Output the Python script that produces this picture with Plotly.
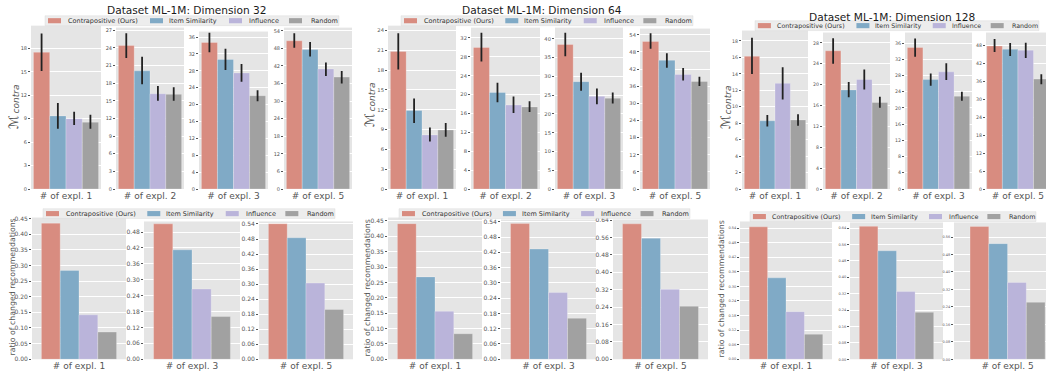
import plotly.graph_objects as go

W, H = 1046, 379

# ---------------- data ----------------
methods = ["Contrapositive (Ours)", "Item Similarity", "Influence", "Random"]
bar_colors = ["#D88C80", "#80AAC6", "#BAB4DA", "#A1A1A1"]
dimensions = ["32", "64", "128"]
top_cats = ["# of expl. 1", "# of expl. 2", "# of expl. 3", "# of expl. 5"]
bottom_cats = ["# of expl. 1", "# of expl. 3", "# of expl. 5"]
top_ytitle_main = "ℳ"
top_ytitle_sub = "contra"
bottom_ytitle = "ratio of changed recommendations"

# M_contra (rows: top_cats, cols: methods)
mc32_mean = [[17.5, 9.35, 9.0, 8.55], [24.4, 20.1, 16.2, 16.1], [34.7, 30.7, 27.5, 22.1], [50.6, 47.6, 41.0, 38.2]]
mc32_lo = [[15.1, 7.7, 8.2, 7.7], [22.3, 17.8, 15.0, 15.0], [32.4, 28.2, 25.4, 20.8], [48.2, 45.2, 38.6, 36.0]]
mc32_hi = [[19.9, 11.0, 9.9, 9.5], [26.5, 22.5, 17.5, 17.3], [37.0, 33.2, 29.6, 23.4], [53.2, 50.2, 43.2, 40.3]]

mc64_mean = [[20.85, 11.9, 8.2, 8.95], [30.0, 20.45, 17.8, 17.4], [38.5, 28.6, 24.7, 24.2], [51.7, 45.1, 40.1, 37.7]]
mc64_lo = [[18.1, 10.0, 7.2, 7.9], [27.0, 18.4, 16.1, 16.3], [35.4, 26.2, 22.6, 22.8], [49.1, 42.5, 38.0, 36.1]]
mc64_hi = [[23.6, 13.7, 9.3, 10.0], [33.1, 22.5, 19.6, 18.6], [41.6, 31.0, 26.8, 25.7], [54.6, 47.6, 42.4, 39.3]]

mc128_mean = [[16.15, 8.3, 12.85, 8.4], [26.5, 19.0, 21.0, 16.6], [34.9, 27.0, 28.9, 22.9], [47.9, 46.8, 46.5, 36.8]]
mc128_lo = [[14.0, 7.6, 10.9, 7.7], [24.0, 17.6, 19.1, 15.6], [32.6, 25.5, 26.9, 21.8], [45.9, 44.5, 43.9, 35.1]]
mc128_hi = [[18.4, 9.0, 14.8, 9.1], [28.9, 20.5, 22.9, 17.7], [37.1, 28.5, 31.0, 24.0], [50.2, 48.9, 49.0, 38.4]]

# ratio of changed recommendations (rows: bottom_cats, cols: methods)
ratio32 = [[0.435, 0.284, 0.142, 0.087], [0.511, 0.413, 0.265, 0.161], [0.541, 0.485, 0.304, 0.199]]
ratio64 = [[0.441, 0.268, 0.156, 0.083], [0.533, 0.433, 0.262, 0.161], [0.623, 0.557, 0.322, 0.244]]
ratio128 = [[0.545, 0.335, 0.196, 0.103], [0.648, 0.529, 0.330, 0.229], [0.609, 0.530, 0.352, 0.261]]

mc_mean = [mc32_mean, mc64_mean, mc128_mean]
mc_lo = [mc32_lo, mc64_lo, mc128_lo]
mc_hi = [mc32_hi, mc64_hi, mc128_hi]
ratios = [ratio32, ratio64, ratio128]

# ---------------- layout (pixels) ----------------
top_dom = [
    [(31, 101, 23), (116, 184, 25), (199, 268, 29), (284, 352, 25)],
    [(388, 456, 23), (471, 540, 25), (555, 623, 25), (640, 710, 26)],
    [(742, 808, 28), (823, 890, 30), (905, 972, 30), (986, 1046, 30)],
]
TOP_BASE = 189
top_ymax = [[20.9, 27.45, 37.3, 55.1], [24.75, 34.2, 43.0, 56.2], [19.27, 30.0, 38.6, 52.4]]
top_dtick = [[3, 3, 4, 6], [3, 4, 5, 6], [2, 4, 4, 6]]
top_tick_size = [5, 5.2, 4.7]

bot_dom = [
    [(32, 126, 218), (144, 240, 222), (259, 353, 222)],
    [(388, 482, 218), (501, 596, 220), (613, 708, 220)],
    [(740, 832, 222), (850, 943, 223), (954, 1046, 223)],
]
BOT_BASE = 362
bot_ymax = [[0.453, 0.52, 0.55], [0.461, 0.549, 0.643], [0.567, 0.667, 0.627]]
bot_dtick = [[0.05, 0.06, 0.06], [0.05, 0.06, 0.08], [0.06, 0.08, 0.08]]
bot_tick_size = [6, 6, 3.5]

titles_pos = [(187, 7.5), (542, 7.5), (892, 14)]
ytitle_main_pos = [(13, 121), (369, 119), (725, 121)]
ytitle_sub_pos = [(16, 98), (372, 96), (728, 99)]
ytitle_bot_pos = [(12, 289), (367, 290), (721, 291)]
legend_top = [(45, 339, 13, 23), (401, 693, 13, 23), (755, 1039, 18, 28)]
legend_bot = [(43, 335, 209, 219), (399, 690, 209, 219), (750, 1036, 212, 222)]
patch_off = [3, 105, 184, 244]
text_off = [21, 122, 202, 264]

BG = "#E5E5E5"
TICK = "#555555"
FONT = "DejaVu Sans"


def fx(v):
    return v / W


def fy(v):
    return 1 - v / H


fig = go.Figure()
layout_axes = {}
count = [0]


def add_panel(cat, means, lo, hi, dom, base, ymax, dtick, tsize, xr, tfmt):
    count[0] += 1
    k = count[0]
    xa = "x" if k == 1 else f"x{k}"
    ya = "y" if k == 1 else f"y{k}"
    for j, m in enumerate(methods):
        kw = dict(x=[cat], y=[means[j]], name=m, showlegend=False,
                  marker=dict(color=bar_colors[j],
                              line=dict(color="rgba(255,255,255,0.3)", width=0.8)),
                  xaxis=xa, yaxis=ya)
        if lo is not None:
            kw["error_y"] = dict(type="data", symmetric=False,
                                 array=[hi[j] - means[j]],
                                 arrayminus=[means[j] - lo[j]],
                                 color="#222222", thickness=1.8, width=0)
        fig.add_trace(go.Bar(**kw))
    x0, x1, top = dom
    xkey = "xaxis" if k == 1 else f"xaxis{k}"
    ykey = "yaxis" if k == 1 else f"yaxis{k}"
    layout_axes[xkey] = dict(domain=[fx(x0), fx(x1)], anchor=ya, type="category",
                             range=xr, showgrid=False, zeroline=False, showline=False,
                             ticks="", ticklabeloverflow="allow",
                             tickfont=dict(size=9, color=TICK, family=FONT),
                             fixedrange=True)
    layout_axes[ykey] = dict(domain=[fy(base), fy(top)], anchor=xa, range=[0, ymax],
                             dtick=dtick, tick0=0, tickformat=tfmt,
                             showgrid=True, gridcolor="white", gridwidth=0.8,
                             zeroline=False, showline=False,
                             ticks="outside", ticklen=2, tickwidth=0.6, tickcolor=TICK,
                             tickfont=dict(size=tsize, color=TICK, family=FONT),
                             fixedrange=True)


for g in range(3):
    for i, cat in enumerate(top_cats):
        xr = [-0.43, 0.43]
        if g == 2 and i == 3:
            xr = [-0.41, 0.36]
        add_panel(cat, mc_mean[g][i], mc_lo[g][i], mc_hi[g][i], top_dom[g][i], TOP_BASE,
                  top_ymax[g][i], top_dtick[g][i], top_tick_size[g], xr, None)
    for i, cat in enumerate(bottom_cats):
        xr = [-0.5, 0.5]
        if g == 2 and i == 2:
            xr = [-0.571, 0.41]
        add_panel(cat, ratios[g][i], None, None, bot_dom[g][i], BOT_BASE,
                  bot_ymax[g][i], bot_dtick[g][i], bot_tick_size[g], xr, ".2f")

annotations = []
shapes = []


def rot_text(text, pos, size, italic=False):
    t = f"<i>{text}</i>" if italic else text
    return dict(text=t, x=fx(pos[0]), y=fy(pos[1]), xref="paper", yref="paper",
                showarrow=False, textangle=-90, xanchor="center", yanchor="middle",
                font=dict(size=size, color=TICK, family=FONT))


for g, d in enumerate(dimensions):
    tx, ty = titles_pos[g]
    annotations.append(dict(text=f"Dataset ML-1M: Dimension {d}", x=fx(tx), y=fy(ty),
                            xref="paper", yref="paper", showarrow=False,
                            xanchor="center", yanchor="middle",
                            font=dict(size=10.6, color="#1a1a1a", family=FONT)))
    annotations.append(rot_text(top_ytitle_main, ytitle_main_pos[g], 13))
    annotations.append(rot_text(top_ytitle_sub, ytitle_sub_pos[g], 9, italic=True))
    annotations.append(rot_text(bottom_ytitle, ytitle_bot_pos[g], 7.8))
    for (lx0, lx1, ly0, ly1) in (legend_top[g], legend_bot[g]):
        scale = (lx1 - lx0) / 294.0
        fsize = round(6.5 * min(1.0, scale + 0.01), 1)
        shapes.append(dict(type="rect", xref="paper", yref="paper",
                           x0=fx(lx0), x1=fx(lx1), y0=fy(ly1), y1=fy(ly0),
                           fillcolor="rgba(236,236,236,0.92)",
                           line=dict(color="rgba(215,215,215,0.8)", width=0.5),
                           layer="above"))
        cy = (ly0 + ly1) / 2.0
        for j, m in enumerate(methods):
            px0 = lx0 + patch_off[j] * scale
            shapes.append(dict(type="rect", xref="paper", yref="paper",
                               x0=fx(px0), x1=fx(px0 + 13), y0=fy(cy + 2.6), y1=fy(cy - 2.6),
                               fillcolor=bar_colors[j], line=dict(width=0), layer="above"))
            annotations.append(dict(text=m, x=fx(lx0 + text_off[j] * scale), y=fy(cy),
                                    xref="paper", yref="paper", showarrow=False,
                                    xanchor="left", yanchor="middle",
                                    font=dict(size=fsize, color="#333333", family=FONT)))

fig.update_layout(
    width=W, height=H,
    margin=dict(l=0, r=0, t=0, b=0),
    paper_bgcolor="white",
    plot_bgcolor=BG,
    barmode="group", bargap=0.2, bargroupgap=0,
    showlegend=False,
    font=dict(family=FONT, color=TICK),
    annotations=annotations,
    shapes=shapes,
    **layout_axes,
)

fig.write_html(
    "out.html",
    config={"displayModeBar": False},
    post_script="document.body.style.margin='0px';document.body.style.padding='0px';"
                "document.body.style.overflow='hidden';",
)
